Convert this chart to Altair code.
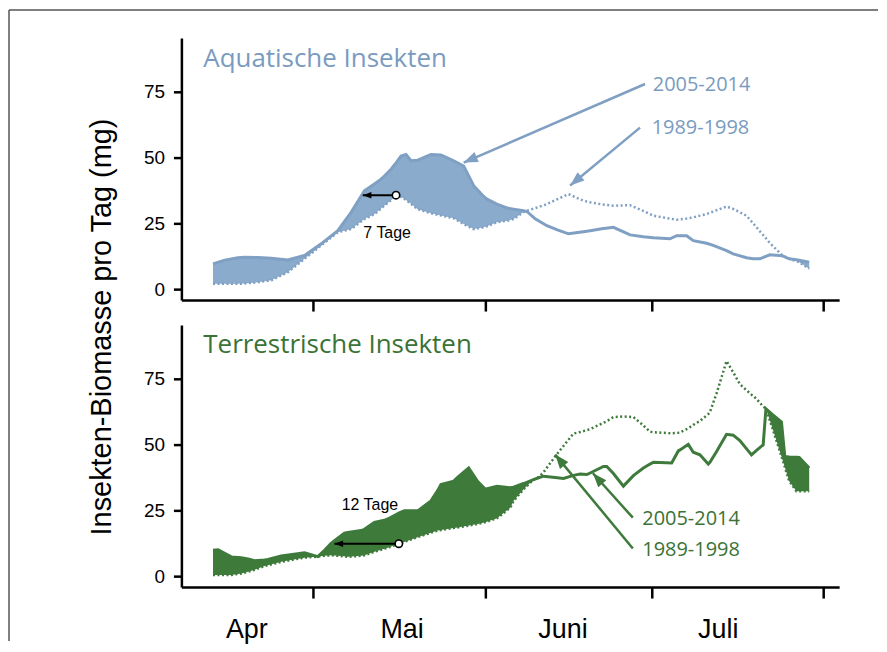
import altair as alt
import pandas as pd

# ---------------- data (day = days since 1 April) ----------------
aq_day = [11.9, 14.0, 16.4, 17.6, 20.0, 22.4, 25.4, 28.4, 31.4, 34.4, 36.8, 39.2, 41.0, 42.2, 42.8,
          44.0, 44.9, 45.8, 46.7, 47.6, 48.8, 51.2, 53.0, 55.3, 57.1, 58.9, 60.7, 61.3, 63.1, 65.0,
          66.1, 67.9, 68.5, 70.0, 72.1, 74.0, 76.0, 78.7, 79.9, 82.0, 84.1, 87.1, 89.5, 91.3, 94.3,
          95.5, 97.3, 98.5, 100.9, 102.1, 104.5, 105.7, 108.1, 109.3, 110.5, 111.7, 112.3, 114.0,
          114.6, 115.8, 117.6, 119.4]
aq_2005_2014 = [9.6, 11.0, 11.9, 12.1, 12.0, 11.7, 11.1, 12.8, 17.2, 22.2, 29.2, 37.4, 40.0, 41.8, 43.0,
                45.6, 48.0, 50.6, 51.2, 48.8, 49.0, 51.2, 51.0, 48.8, 46.8, 39.3, 35.2, 34.2, 32.3, 30.8,
                30.4, 29.8, 29.5, 26.7, 24.1, 22.5, 21.0, 21.8, 22.2, 22.9, 23.5, 20.6, 19.9, 19.5, 19.1,
                20.3, 20.3, 18.4, 17.4, 16.6, 14.6, 13.4, 11.9, 11.5, 11.5, 12.5, 13.0, 12.8,
                12.6, 11.5, 11.0, 10.2]
aq_1989_1998 = [2.0, 2.0, 2.0, 2.1, 2.6, 3.3, 6.4, 11.5, 16.6, 21.6, 22.8, 26.6, 28.5, 30.6, 31.7,
                33.8, 35.7, 35.0, 33.9, 32.4, 30.4, 28.8, 28.0, 26.9, 24.7, 22.8, 23.5, 23.9, 25.4, 26.0,
                26.6, 29.3, 29.8, 30.8, 32.3, 34.2, 36.1, 33.6, 33.0, 32.2, 31.7, 31.9, 29.7, 27.9, 26.8,
                26.4, 26.8, 27.3, 28.5, 29.5, 31.4, 30.5, 27.9, 25.0, 22.0, 19.1, 17.5, 14.0,
                12.8, 11.5, 10.2, 7.7]

te_day = [11.9, 12.8, 15.2, 17.0, 18.2, 19.4, 21.2, 21.8, 24.2, 26.5, 28.4, 30.8, 32.0, 33.2, 33.8,
          35.6, 36.2, 38.6, 39.2, 41.0, 42.8, 43.4, 45.5, 46.4, 48.8, 51.2, 52.4, 53.0, 55.3, 56.0,
          58.0, 59.6, 61.0, 63.1, 65.5, 66.1, 67.9, 69.7, 70.6, 71.5, 73.6, 75.1, 76.9, 78.1, 79.3,
          79.9, 82.3, 82.9, 84.1, 85.9, 87.7, 89.5, 90.7, 91.3, 94.6, 95.8, 96.1, 97.6, 98.5, 99.7,
          101.2, 101.5, 102.7, 104.5, 105.7, 106.9, 109.0, 109.9, 111.1, 111.6, 112.8, 114.4, 115.0,
          115.8, 117.1, 117.6, 119.4]
te_2005_2014 = [9.8, 10.0, 7.3, 7.0, 6.5, 5.8, 6.1, 6.3, 7.6, 8.3, 8.9, 7.4, 9.8, 12.4, 13.5,
                16.3, 16.6, 17.3, 17.8, 20.4, 21.2, 21.7, 24.0, 24.8, 24.8, 28.6, 32.5, 34.8, 36.1, 37.5,
                41.1, 36.0, 33.0, 34.2, 33.6, 33.8, 35.2, 36.7, 37.4, 38.0, 37.5, 37.1, 38.3, 38.8, 38.6,
                39.2, 41.7, 41.7, 39.0, 34.2, 38.2, 41.1, 42.6, 43.3, 43.0, 47.6, 48.0, 50.1, 47.1, 46.1,
                42.6, 43.3, 47.4, 53.9, 53.6, 51.5, 46.1, 47.8, 49.9, 63.6, 61.4, 58.6, 45.5,
                45.3, 45.2, 45.1, 41.1]
te_1989_1998 = [0.4, 0.4, 0.4, 1.0, 1.6, 2.4, 3.8, 4.1, 5.4, 6.3, 7.0, 7.4, 7.7, 7.9, 7.8,
                7.5, 7.3, 7.7, 7.9, 9.2, 10.4, 10.8, 12.3, 13.0, 14.8, 16.5, 17.3, 17.5, 18.3, 18.5,
                19.2, 19.8, 20.5, 22.0, 26.0, 28.6, 33.0, 36.7, 37.6, 39.5, 45.5, 49.5, 54.2, 54.8, 55.5,
                55.9, 58.3, 58.9, 60.5, 60.7, 60.5, 57.3, 54.9, 54.7, 54.3, 54.5, 54.6, 56.2, 57.5, 59.0,
                61.6, 62.4, 69.5, 81.8, 77.5, 73.0, 69.0, 67.4, 64.5, 63.6, 56.1, 45.5, 41.5,
                36.1, 32.3, 32.3, 32.3]

month_ticks = [30, 61, 91, 122]
month_labels = ["Apr", "Mai", "Juni", "Juli"]
month_label_day = [18, 46, 75, 103]
y_ticks = [0, 25, 50, 75]
series_labels = ["2005-2014", "1989-1998"]

# annotations: label position, arrow start, arrow tip (day, value)
aq_label_pos = [(91.2, 77.5), (91.0, 61.4)]
aq_arrows = [(89.8, 78.0, 57.1, 48.1, 246.5), (88.9, 61.4, 76.3, 39.4, 230.4)]
te_label_pos = [(89.3, 21.8), (89.3, 9.8)]
te_arrows = [(87.6, 22.2, 80.4, 39.1, 318.4), (87.6, 10.5, 73.6, 46.2, 320.6)]
aq_shift = {"from": (44.9, 35.7), "to": 38.9, "label": "7 Tage", "lab": (43.3, 21.2)}
te_shift = {"from": (45.4, 12.3), "to": 33.8, "label": "12 Tage", "lab": (40.2, 27.2)}

# ---------------- styling ----------------
W, H = 660, 263
X_DOMAIN = [6.2, 124.8]
Y_DOMAIN = [-4.2, 95.5]
BLUE_FILL, BLUE_LINE, BLUE_TEXT = "#8aabcc", "#7f9fc3", "#7a9bbf"
GREEN_FILL, GREEN_LINE, GREEN_TEXT = "#3e7b3b", "#3e7a3b", "#3b7236"
ARROW = "M0,0L0.38,1L-0.38,1Z"

xs = alt.Scale(domain=X_DOMAIN, nice=False, zero=False)
ys = alt.Scale(domain=Y_DOMAIN, nice=False, zero=False)
x_axis = alt.Axis(values=month_ticks, labels=False, title=None, grid=False, tickSize=11,
                  tickWidth=2.5, tickColor="black", domainColor="black", domainWidth=2.5)
y_axis = alt.Axis(values=y_ticks, title=None, grid=False, tickSize=8, tickWidth=2.5,
                  tickColor="black", domainColor="black", domainWidth=2.5,
                  labelFont="Liberation Sans", labelFontSize=19, labelColor="black",
                  labelPadding=9)


def X(f):
    return alt.X(f, type="quantitative", scale=xs, axis=x_axis)


def Y(f):
    return alt.Y(f, type="quantitative", scale=ys, axis=y_axis)


one = pd.DataFrame({"a": [0]})


def panel(days, new, old, fill, line, tcolor, title, label_pos, arrows, shift, title_y):
    df = pd.DataFrame({"d": days, "new": new, "old": old})
    df["low"] = df[["new", "old"]].min(axis=1)
    area = alt.Chart(df).mark_area(color=fill, opacity=1).encode(
        x=X("d"), y=Y("new"), y2=alt.Y2("low"))
    dotted = alt.Chart(df).mark_line(color=line, strokeWidth=2.5, strokeDash=[2, 2.5]).encode(
        x=X("d"), y=Y("old"))
    solid = alt.Chart(df).mark_line(color=line, strokeWidth=3).encode(x=X("d"), y=Y("new"))

    adf = pd.DataFrame(arrows, columns=["d", "v", "d2", "v2", "angle"])
    rules = alt.Chart(adf).mark_rule(color=line, strokeWidth=2.5).encode(
        x=X("d"), y=Y("v"), x2=alt.X2("d2"), y2=alt.Y2("v2"))
    heads = alt.Chart(adf).mark_point(shape=ARROW, filled=True, size=800, color=line,
                                      opacity=1, strokeWidth=0).encode(
        x=X("d2"), y=Y("v2"), angle=alt.Angle("angle:Q", scale=None))
    ldf = pd.DataFrame({"d": [p[0] for p in label_pos], "v": [p[1] for p in label_pos],
                        "t": series_labels})
    labels = alt.Chart(ldf).mark_text(font="Open Sans", fontSize=20, color=tcolor,
                                      align="left", baseline="middle").encode(
        x=X("d"), y=Y("v"), text="t:N")

    sdf = pd.DataFrame({"d": [shift["from"][0]], "v": [shift["from"][1]], "d2": [shift["to"]],
                        "v2": [shift["from"][1]], "angle": [270],
                        "ld": [shift["lab"][0]], "lv": [shift["lab"][1]], "t": [shift["label"]]})
    srule = alt.Chart(sdf).mark_rule(color="black", strokeWidth=2).encode(
        x=X("d"), y=Y("v"), x2=alt.X2("d2"), y2=alt.Y2("v2"))
    shead = alt.Chart(sdf).mark_point(shape=ARROW, filled=True, size=300, color="black",
                                      opacity=1, strokeWidth=0).encode(
        x=X("d2"), y=Y("v2"), angle=alt.Angle("angle:Q", scale=None))
    scirc = alt.Chart(sdf).mark_point(shape="circle", filled=True, fill="white", stroke="black",
                                      strokeWidth=1.6, size=55, opacity=1).encode(
        x=X("d"), y=Y("v"))
    stext = alt.Chart(sdf).mark_text(font="Liberation Sans", fontSize=16, color="black",
                                     baseline="middle").encode(x=X("ld"), y=Y("lv"), text="t:N")

    ttl = alt.Chart(one).mark_text(text=title, font="Open Sans", fontSize=26, color=tcolor,
                                   align="left", baseline="alphabetic").encode(
        x=alt.value(22), y=alt.value(title_y))
    return [area, dotted, solid, rules, heads, labels, srule, shead, scirc, stext, ttl]


top_layers = panel(aq_day, aq_2005_2014, aq_1989_1998, BLUE_FILL, BLUE_LINE, BLUE_TEXT,
                   "Aquatische Insekten", aq_label_pos, aq_arrows, aq_shift, 29)
bot_layers = panel(te_day, te_2005_2014, te_1989_1998, GREEN_FILL, GREEN_LINE, GREEN_TEXT,
                   "Terrestrische Insekten", te_label_pos, te_arrows, te_shift, 28)

ytitle = alt.Chart(one).mark_text(text="Insekten-Biomasse pro Tag (mg)", font="Liberation Sans",
                                  fontSize=29, color="black", angle=270, align="center",
                                  baseline="middle").encode(x=alt.value(-80), y=alt.value(290))
border_left = alt.Chart(one).mark_rule(color="#555555", strokeWidth=1.5).encode(
    x=alt.value(-173), y=alt.value(-28), y2=alt.value(605))
border_top = alt.Chart(one).mark_rule(color="#555555", strokeWidth=1.5).encode(
    x=alt.value(-173), x2=alt.value(699), y=alt.value(-28))

mdf = pd.DataFrame({"d": month_label_day, "t": month_labels})
months = alt.Chart(mdf).mark_text(font="Liberation Sans", fontSize=27, color="black",
                                  baseline="alphabetic").encode(
    x=X("d"), y=alt.value(314), text="t:N")

top = alt.layer(*top_layers, ytitle, border_left, border_top).properties(width=W, height=H)
bottom = alt.layer(*bot_layers, months).properties(width=W, height=H)

chart = alt.vconcat(top, bottom, spacing=25, bounds="flush").properties(
    padding={"left": 0, "top": 0, "right": 0, "bottom": 0}
).configure_view(strokeWidth=0)

chart.save("out.html", embed_options={"renderer": "svg", "actions": False})
